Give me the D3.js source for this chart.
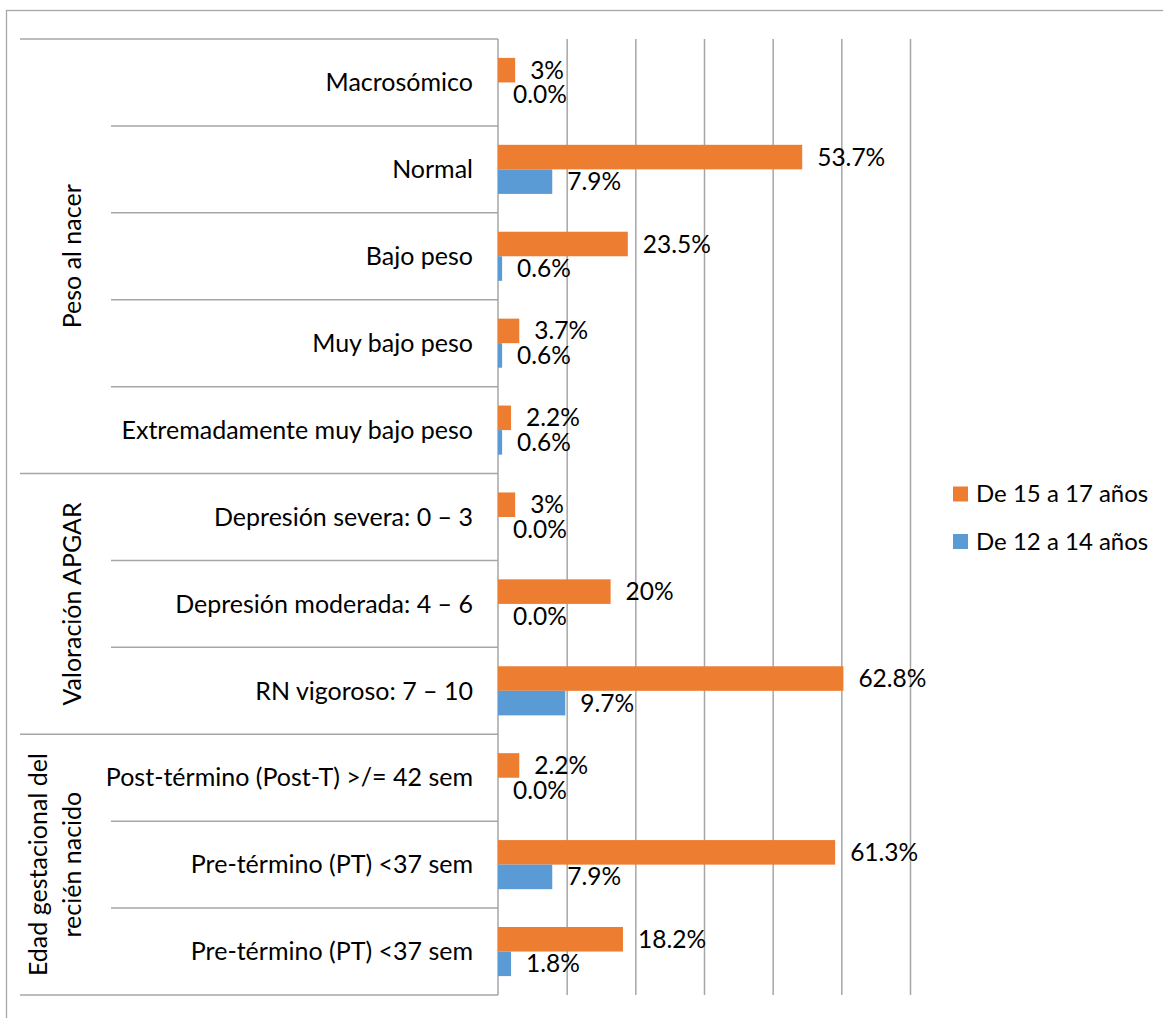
<!DOCTYPE html>
<html>
<head>
<meta charset="utf-8">
<script src="https://cdn.jsdelivr.net/npm/d3@7"></script>
<style>
  body { margin: 0; background: #fff; }
  text { font-family: Lato, "Open Sans", sans-serif; fill: #000; }
</style>
</head>
<body>
<div id="chart"></div>
<script>
// categorías de arriba hacia abajo
const categories = [
  "Macrosómico", "Normal", "Bajo peso", "Muy bajo peso", "Extremadamente muy bajo peso",
  "Depresión severa: 0 – 3", "Depresión moderada: 4 – 6", "RN vigoroso: 7 – 10",
  "Post-término (Post-T) >/= 42 sem", "Pre-término (PT) <37 sem", "Pre-término (PT) <37 sem"
];
const groups = [
  { name: ["Peso al nacer"], from: 0, to: 5 },
  { name: ["Valoración APGAR"], from: 5, to: 8 },
  { name: ["Edad gestacional del", "recién nacido"], from: 8, to: 11 }
];
const seriesNames = ["De 15 a 17 años", "De 12 a 14 años"];
const seriesColors = ["#ED7D31", "#5B9BD5"];
// longitud de las barras
const valuesOlder = [2.5, 44.3, 18.9, 3.1, 1.9, 2.5, 16.4, 50.3, 3.1, 49.1, 18.2];
const valuesYounger = [0, 7.9, 0.6, 0.6, 0.6, 0, 0, 9.8, 0, 7.9, 1.9];
// etiquetas de datos tal como aparecen
const labelsOlder = ["3%", "53.7%", "23.5%", "3.7%", "2.2%", "3%", "20%", "62.8%", "2.2%", "61.3%", "18.2%"];
const labelsYounger = ["0.0%", "7.9%", "0.6%", "0.6%", "0.6%", "0.0%", "0.0%", "9.7%", "0.0%", "7.9%", "1.8%"];
const gridTicks = [10, 20, 30, 40, 50, 60];

const width = 1163, height = 1018;
const plot = { left: 498, right: 910, top: 39, bottom: 995 };

const svg = d3.select("#chart").append("svg")
  .attr("width", width).attr("height", height);

// borde del área del gráfico
svg.append("rect")
  .attr("x", 6.5).attr("y", 10.5)
  .attr("width", 1300).attr("height", 1200)
  .attr("fill", "none").attr("stroke", "#a6a6a6").attr("stroke-width", 1.3);

const x = d3.scaleLinear().domain([0, 60]).range([plot.left, plot.right]);
const y = d3.scaleBand().domain(d3.range(categories.length))
  .range([plot.top, plot.bottom]).padding(0);
const ySub = d3.scaleBand().domain([0, 1])
  .range([0, y.bandwidth()]).paddingInner(0).paddingOuter(0.77);

// líneas de cuadrícula
svg.append("g")
  .attr("transform", `translate(0,${plot.bottom})`)
  .call(d3.axisBottom(x).tickValues(gridTicks).tickSize(-(plot.bottom - plot.top)).tickFormat(""))
  .call(g => g.select(".domain").remove())
  .call(g => g.selectAll(".tick line").attr("stroke", "#a6a6a6").attr("stroke-width", 1.5));

// eje de categorías
svg.append("line")
  .attr("x1", plot.left).attr("x2", plot.left)
  .attr("y1", plot.top).attr("y2", plot.bottom)
  .attr("stroke", "#a6a6a6").attr("stroke-width", 1.5);

const groupEdges = new Set(groups.flatMap(g => [g.from, g.to]));
const edges = d3.range(categories.length + 1);
svg.append("g").selectAll("line").data(edges).join("line")
  .attr("x1", i => groupEdges.has(i) ? 20 : 111)
  .attr("x2", plot.left)
  .attr("y1", i => (i < categories.length ? y(i) : plot.bottom))
  .attr("y2", i => (i < categories.length ? y(i) : plot.bottom))
  .attr("stroke", "#a6a6a6").attr("stroke-width", 1.5);

// etiquetas de categorías
svg.append("g").selectAll("text").data(categories).join("text")
  .attr("x", 473)
  .attr("y", (d, i) => y(i) + y.bandwidth() / 2)
  .attr("dy", "0.35em")
  .attr("text-anchor", "end")
  .style("font-size", "25px")
  .text(d => d);

// etiquetas de grupo (verticales)
groups.forEach(g => {
  const cy = (y(g.from) + (g.to < categories.length ? y(g.to) : plot.bottom)) / 2;
  const lineGap = 34;
  const n = g.name.length;
  g.name.forEach((line, k) => {
    const bx = 81 - (n - 1 - k) * lineGap;
    svg.append("text")
      .attr("transform", `translate(${bx},${cy}) rotate(-90)`)
      .attr("text-anchor", "middle")
      .style("font-size", "25px")
      .text(line);
  });
});

// barras
const series = [
  { values: valuesOlder, labels: labelsOlder },
  { values: valuesYounger, labels: labelsYounger }
];
series.forEach((s, si) => {
  const g = svg.append("g");
  g.selectAll("rect").data(s.values).join("rect")
    .attr("x", x(0))
    .attr("y", (d, i) => y(i) + ySub(si))
    .attr("width", d => x(d) - x(0))
    .attr("height", ySub.bandwidth())
    .attr("fill", seriesColors[si]);
  g.selectAll("text").data(s.labels).join("text")
    .attr("x", (d, i) => x(s.values[i]) + 15)
    .attr("y", (d, i) => y(i) + ySub(si) + ySub.bandwidth() / 2)
    .attr("dy", "0.35em")
    .style("font-size", "24.5px")
    .text(d => d);
});

// leyenda
const legend = svg.append("g");
seriesNames.forEach((name, i) => {
  const ly = 494 + i * 47.5;
  legend.append("rect")
    .attr("x", 953).attr("y", ly - 7.5)
    .attr("width", 15).attr("height", 15)
    .attr("fill", seriesColors[i]);
  legend.append("text")
    .attr("x", 976).attr("y", ly).attr("dy", "0.35em")
    .style("font-size", "24px")
    .text(name);
});
</script>
</body>
</html>
